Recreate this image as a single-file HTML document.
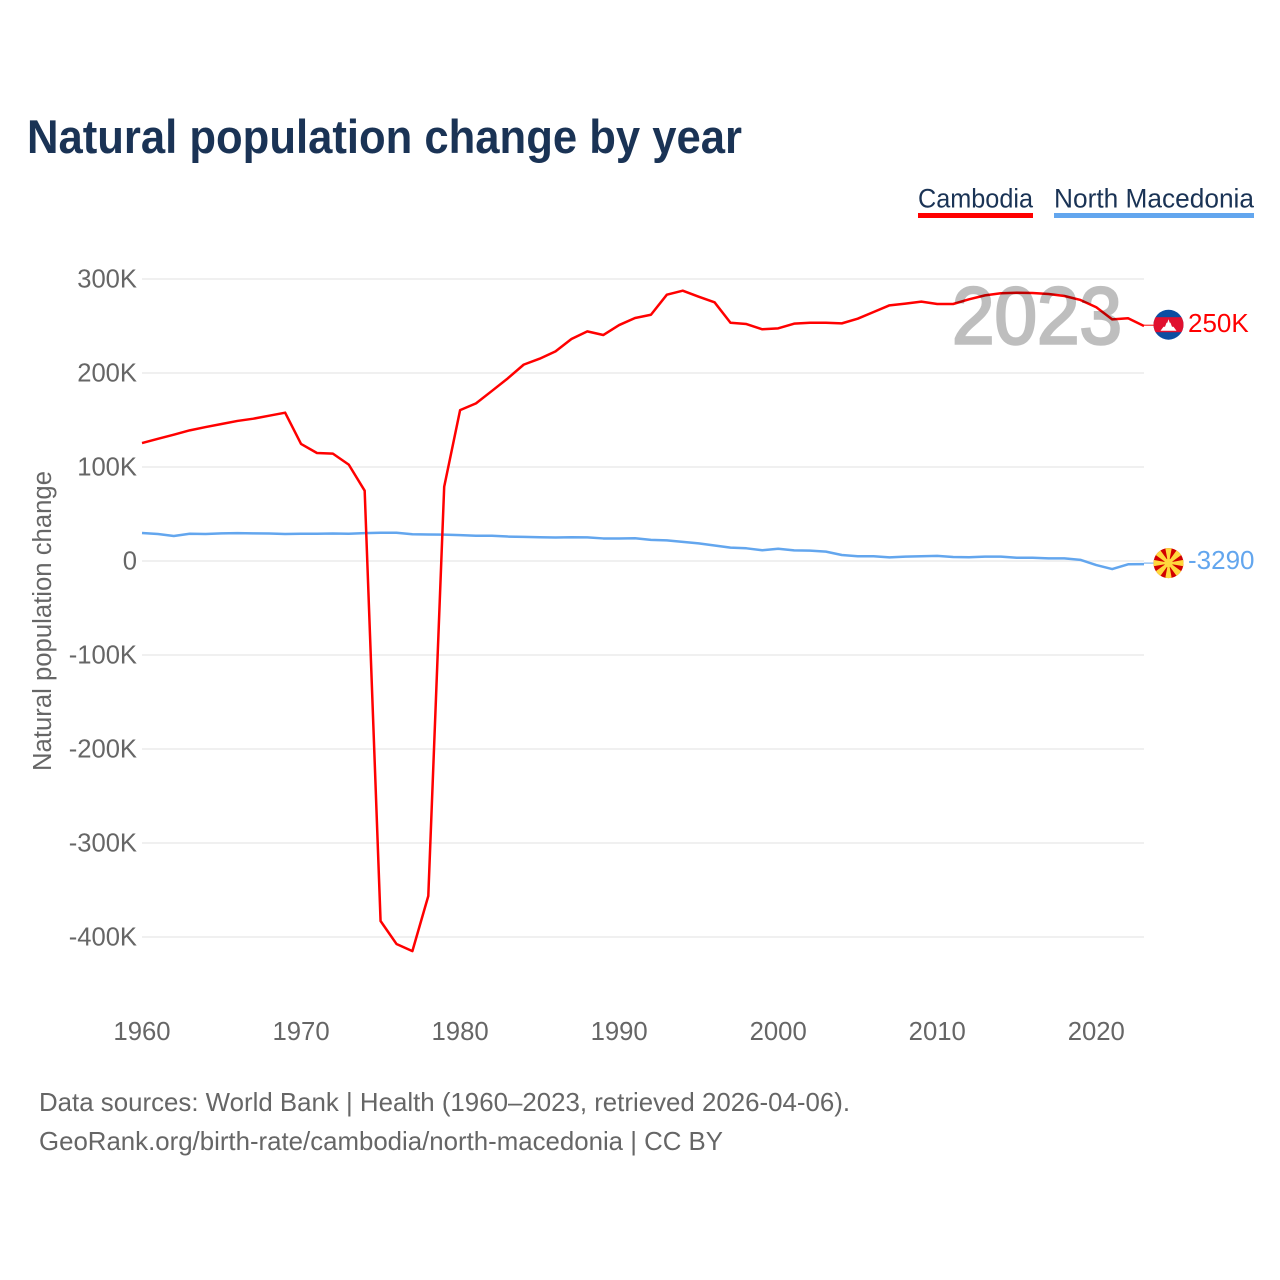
<!DOCTYPE html>
<html lang="en">
<head>
<meta charset="utf-8">
<title>Natural population change by year</title>
<style>
  html, body { margin: 0; padding: 0; background: #fff; }
  svg { display: block; font-family: "Liberation Sans", sans-serif; }
</style>
</head>
<body>
<svg id="chart" xmlns="http://www.w3.org/2000/svg" width="1280" height="1280" viewBox="0 0 1280 1280">
  <defs>
    <clipPath id="flag-clip"><circle cx="0" cy="0" r="15"></circle></clipPath>
  </defs>
  <rect x="0" y="0" width="1280" height="1280" fill="#ffffff"></rect>

  <text x="27" y="153" font-size="47" font-weight="700" fill="#1a3355" textLength="715" lengthAdjust="spacingAndGlyphs">Natural population change by year</text>

  <g>
    <g>
      <text x="918" y="207.5" font-size="27" fill="#1a3355" textLength="115" lengthAdjust="spacingAndGlyphs">Cambodia</text>
      <rect x="918" y="213" width="115" height="5" fill="#ff0000"></rect>
    </g>
    <g>
      <text x="1054" y="207.5" font-size="27" fill="#1a3355" textLength="200" lengthAdjust="spacingAndGlyphs">North Macedonia</text>
      <rect x="1054" y="213" width="200" height="5" fill="#63a6ee"></rect>
    </g>
  </g>

  <g id="grid"></g>
  <g id="y-ticks"></g>
  <g id="x-ticks"></g>

  <text transform="translate(51 621) rotate(-90)" text-anchor="middle" font-size="25.5" fill="#666666" textLength="300" lengthAdjust="spacingAndGlyphs">Natural population change</text>

  <g id="series"></g>

  <text x="1037" y="343.5" text-anchor="middle" font-size="81" font-weight="400" fill="#000000" stroke="#000000" stroke-width="2.6" opacity="0.25" textLength="170" lengthAdjust="spacingAndGlyphs">2023</text>

  <g id="end-markers"></g>

  <g id="flag-cambodia">
    <g clip-path="url(#flag-clip)">
      <rect x="-16" y="-16" width="32" height="32" fill="#0b4ea2"></rect>
      <rect x="-16" y="-7.5" width="32" height="15" fill="#e0102f"></rect>
      <polygon points="-8,6 -5,2 -3.5,2 -2,-2 -1.2,-2 0,-5.5 1.2,-2 2,-2 3.5,2 5,2 8,6" fill="#ffffff"></polygon>
    </g>
  </g>
  <g id="flag-north-macedonia">
    <g clip-path="url(#flag-clip)">
      <rect x="-16" y="-16" width="32" height="32" fill="#d20000"></rect>
      <g fill="#ffd83d">
        <polygon points="-3.4,-16 3.4,-16 1,-3 -1,-3"></polygon>
        <polygon points="-3.4,16 3.4,16 1,3 -1,3"></polygon>
        <polygon points="-16,-3.4 -16,3.4 -3,1 -3,-1"></polygon>
        <polygon points="16,-3.4 16,3.4 3,1 3,-1"></polygon>
        <polygon points="-14,-9 -9,-14 -1,-3 -3,-1"></polygon>
        <polygon points="14,-9 9,-14 1,-3 3,-1"></polygon>
        <polygon points="-14,9 -9,14 -1,3 -3,1"></polygon>
        <polygon points="14,9 9,14 1,3 3,1"></polygon>
      </g>
      <circle cx="0" cy="0" r="4.2" fill="#ffd83d"></circle>
    </g>
  </g>

  <text x="39" y="1111" font-size="26" fill="#666666" textLength="811" lengthAdjust="spacingAndGlyphs">Data sources: World Bank | Health (1960–2023, retrieved 2026-04-06).</text>
  <text x="39" y="1150" font-size="26" fill="#666666" textLength="684" lengthAdjust="spacingAndGlyphs">GeoRank.org/birth-rate/cambodia/north-macedonia | CC BY</text>
</svg>

<script>
const years = [1960,1961,1962,1963,1964,1965,1966,1967,1968,1969,1970,1971,1972,1973,1974,1975,1976,1977,1978,1979,1980,1981,1982,1983,1984,1985,1986,1987,1988,1989,1990,1991,1992,1993,1994,1995,1996,1997,1998,1999,2000,2001,2002,2003,2004,2005,2006,2007,2008,2009,2010,2011,2012,2013,2014,2015,2016,2017,2018,2019,2020,2021,2022,2023];
const cambodia = [125.5,130,134.4,139,142.5,145.7,149,151.4,154.6,157.8,124.5,114.9,114.2,102.5,74.8,-383,-407.4,-415,-356.4,79,160.5,167.7,180.9,194.3,208.9,215.2,223,236.2,244.3,240.4,251,258.5,262,283.3,287.6,281.2,275.2,253.5,252.1,246.5,247.5,252.5,253.5,253.5,252.8,257.8,264.9,272,273.8,275.9,273.4,273.4,278.4,282.6,284.8,285.4,285.1,284,281.9,277.7,269.9,257.1,258.2,250];
const northMacedonia = [29.8,28.7,26.6,29,28.7,29.4,29.7,29.4,29.2,28.7,29,29,29.2,29,29.6,30.1,30,28.4,28.2,28,27.5,26.8,26.9,26,25.7,25.3,25,25.3,25.1,24,24,24.2,22.5,22,20.3,18.8,16.5,14.2,13.5,11.4,13,11.3,11,10,6.4,5,5,3.9,4.6,5,5.5,4.3,4,4.6,4.6,3.5,3.5,2.8,2.8,1.2,-4.3,-8.6,-3.5,-3.29];
const yTickValues = [300,200,100,0,-100,-200,-300,-400];
const yTickLabels = ['300K','200K','100K','0','-100K','-200K','-300K','-400K'];
const xTickValues = [1960,1970,1980,1990,2000,2010,2020];
const xTickLabels = ['1960','1970','1980','1990','2000','2010','2020'];
const endLabels = ['250K','-3290'];

const NS = 'http://www.w3.org/2000/svg';
function xScale(year) { return 142 + (year - 1960) * (1144 - 142) / (2023 - 1960); }
function yScale(value) { return 561 - value * 0.94; }
function make(tag, attrs, parent) {
  const el = document.createElementNS(NS, tag);
  for (const k in attrs) el.setAttribute(k, attrs[k]);
  parent.appendChild(el);
  return el;
}

const grid = document.getElementById('grid');
const yTicks = document.getElementById('y-ticks');
yTickValues.forEach(function (v, i) {
  const line = make('line', { x1: 142, x2: 1144, y1: yScale(v), y2: yScale(v), stroke: '#f0f0f0', 'stroke-width': 2 }, grid);
  
  
  const label = make('text', { x: 137, y: yScale(v) + 8.3, 'text-anchor': 'end', 'font-size': 25.6, fill: '#666666' }, yTicks);
  
  
  label.textContent = yTickLabels[i];
});

const xTicks = document.getElementById('x-ticks');
xTickValues.forEach(function (v, i) {
  const label = make('text', { x: xScale(v), y: 1040, 'text-anchor': 'middle', 'font-size': 25.7, fill: '#666666' }, xTicks);
  
  
  label.textContent = xTickLabels[i];
});

function pathFor(values) {
  return values.map(function (v, i) {
    return (i ? 'L' : 'M') + xScale(years[i]).toFixed(2) + ' ' + yScale(v).toFixed(2);
  }).join(' ');
}
const seriesGroup = document.getElementById('series');
const blueLine = make('path', { d: pathFor(northMacedonia), fill: 'none', stroke: '#63a6ee', 'stroke-width': 2.5, 'stroke-linejoin': 'round' }, seriesGroup);


const redLine = make('path', { d: pathFor(cambodia), fill: 'none', stroke: '#ff0000', 'stroke-width': 2.5, 'stroke-linejoin': 'round' }, seriesGroup);



const endX = xScale(years[years.length - 1]);
const markers = document.getElementById('end-markers');
const lastRed = yScale(cambodia[cambodia.length - 1]);
const lastBlue = yScale(northMacedonia[northMacedonia.length - 1]);

const leaderRed = make('line', { x1: endX, x2: endX + 10, y1: lastRed - 0.8, y2: lastRed - 0.8, stroke: '#ff0000', 'stroke-width': 1 }, markers);


const leaderBlue = make('line', { x1: endX, x2: endX + 10, y1: lastBlue - 1, y2: lastBlue - 1, stroke: '#63a6ee', 'stroke-width': 1 }, markers);



const labelRed = make('text', { x: 1188, y: lastRed + 6, 'font-size': 26, fill: '#ff0000' }, markers);


labelRed.textContent = endLabels[0];
const labelBlue = make('text', { x: 1188, y: lastBlue + 5, 'font-size': 26, fill: '#63a6ee' }, markers);


labelBlue.textContent = endLabels[1];

document.getElementById('flag-cambodia').setAttribute('transform', 'translate(1168.5 ' + (lastRed - 1.3) + ')');
document.getElementById('flag-north-macedonia').setAttribute('transform', 'translate(1168.5 ' + (lastBlue - 1) + ')');
</script>
</body>
</html>
